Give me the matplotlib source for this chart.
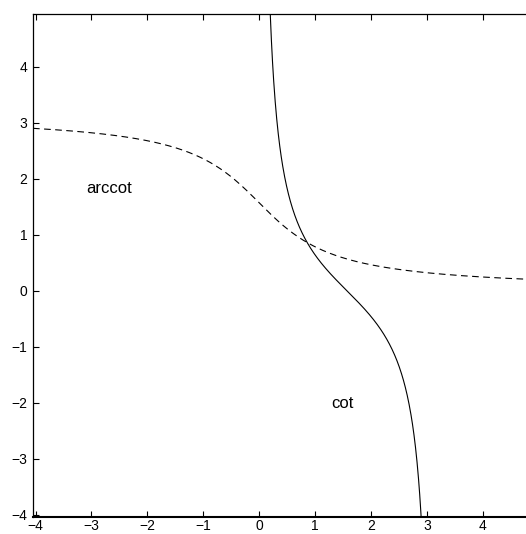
import numpy as np
import matplotlib
matplotlib.use("Agg")
import matplotlib.pyplot as plt

plt.rcParams['font.family'] = ['Liberation Sans', 'DejaVu Sans']

# Domains of the two curves
x_cot = np.linspace(0.2, 2.9, 400)
x_arccot = np.linspace(-4.045, 4.8, 400)

y_cot = 1.0 / np.tan(x_cot)
y_arccot = np.pi / 2 - np.arctan(x_arccot)   # principal branch in (0, pi)

x_ticks = [-4, -3, -2, -1, 0, 1, 2, 3, 4]
y_ticks = [-4, -3, -2, -1, 0, 1, 2, 3, 4]

W, H = 526, 534
fig = plt.figure(figsize=(W / 100, H / 100), dpi=100)
left, right = 33, 526
top, bottom = 14, 516.5
ax = fig.add_axes([left / W, (H - bottom) / H, (right - left) / W, (bottom - top) / H])

ax.plot(x_cot, y_cot, color='black', lw=0.8)
ax.plot(x_arccot, y_arccot, color='black', lw=0.8, linestyle=(0, (6, 4)))

ax.text(-3.10, 1.75, 'arccot', fontsize=12, ha='left', va='baseline')
ax.text(1.29, -2.09, 'cot', fontsize=12, ha='left', va='baseline')

ax.set_xlim(-4.045, 4.775)
ax.set_ylim(-4.03, 4.94)
ax.set_xticks(x_ticks)
ax.set_yticks(y_ticks)
ax.set_xticklabels([f'\u2212{abs(v)}' if v < 0 else str(v) for v in x_ticks])
ax.set_yticklabels([f'\u2212{abs(v)}' if v < 0 else str(v) for v in y_ticks])
ax.tick_params(direction='in', length=4, width=0.8, labelsize=10, top=True,
               right=False)
ax.tick_params(axis='x', pad=1.5)
ax.tick_params(axis='y', pad=4)
ax.spines['right'].set_visible(False)
for s in ('left', 'top'):
    ax.spines[s].set_linewidth(0.9)
ax.spines['bottom'].set_linewidth(1.5)

fig.savefig('out.png', dpi=100)
